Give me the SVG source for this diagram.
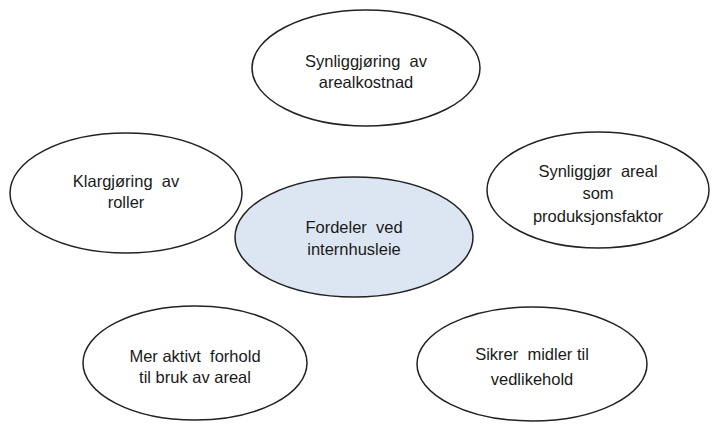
<svg xmlns="http://www.w3.org/2000/svg" width="713" height="425" viewBox="0 0 713 425" xml:space="preserve">
  <style>
    .node ellipse { fill: #ffffff; stroke: #222222; stroke-width: 1.5; }
    .node.core ellipse { fill: #dce6f2; }
    .node text { font-family: "Liberation Sans", Arial, sans-serif; font-size: 16.5px; fill: #1a1a1a; text-anchor: middle; white-space: pre; }
  </style>
  <rect width="713" height="425" fill="#ffffff"/>
  <!-- no connectors: the ideas surround the central node -->
  <g id="connectors"/>
  <g id="synliggjoring-arealkostnad" class="node">
    <ellipse cx="366" cy="68" rx="114" ry="58"/>
    <text x="366" y="67">Synliggjøring  av</text>
    <text x="366" y="88">arealkostnad</text>
  </g>
  <g id="klargjoring-roller" class="node">
    <ellipse cx="126" cy="193" rx="116" ry="60"/>
    <text x="126" y="187">Klargjøring  av</text>
    <text x="126" y="208">roller</text>
  </g>
  <g id="synliggjor-areal" class="node">
    <ellipse cx="598" cy="190" rx="111" ry="58"/>
    <text x="598" y="177">Synliggjør  areal</text>
    <text x="598" y="199">som</text>
    <text x="598" y="222">produksjonsfaktor</text>
  </g>
  <g id="fordeler" class="node core">
    <ellipse cx="354" cy="237" rx="119" ry="60"/>
    <text x="354" y="233">Fordeler  ved</text>
    <text x="354" y="255">internhusleie</text>
  </g>
  <g id="aktivt-forhold" class="node">
    <ellipse cx="195" cy="363" rx="112" ry="57"/>
    <text x="195" y="362">Mer aktivt  forhold</text>
    <text x="195" y="383">til bruk av areal</text>
  </g>
  <g id="midler-vedlikehold" class="node">
    <ellipse cx="532" cy="364" rx="115" ry="57"/>
    <text x="532" y="360">Sikrer  midler til</text>
    <text x="532" y="385">vedlikehold</text>
  </g>
</svg>
